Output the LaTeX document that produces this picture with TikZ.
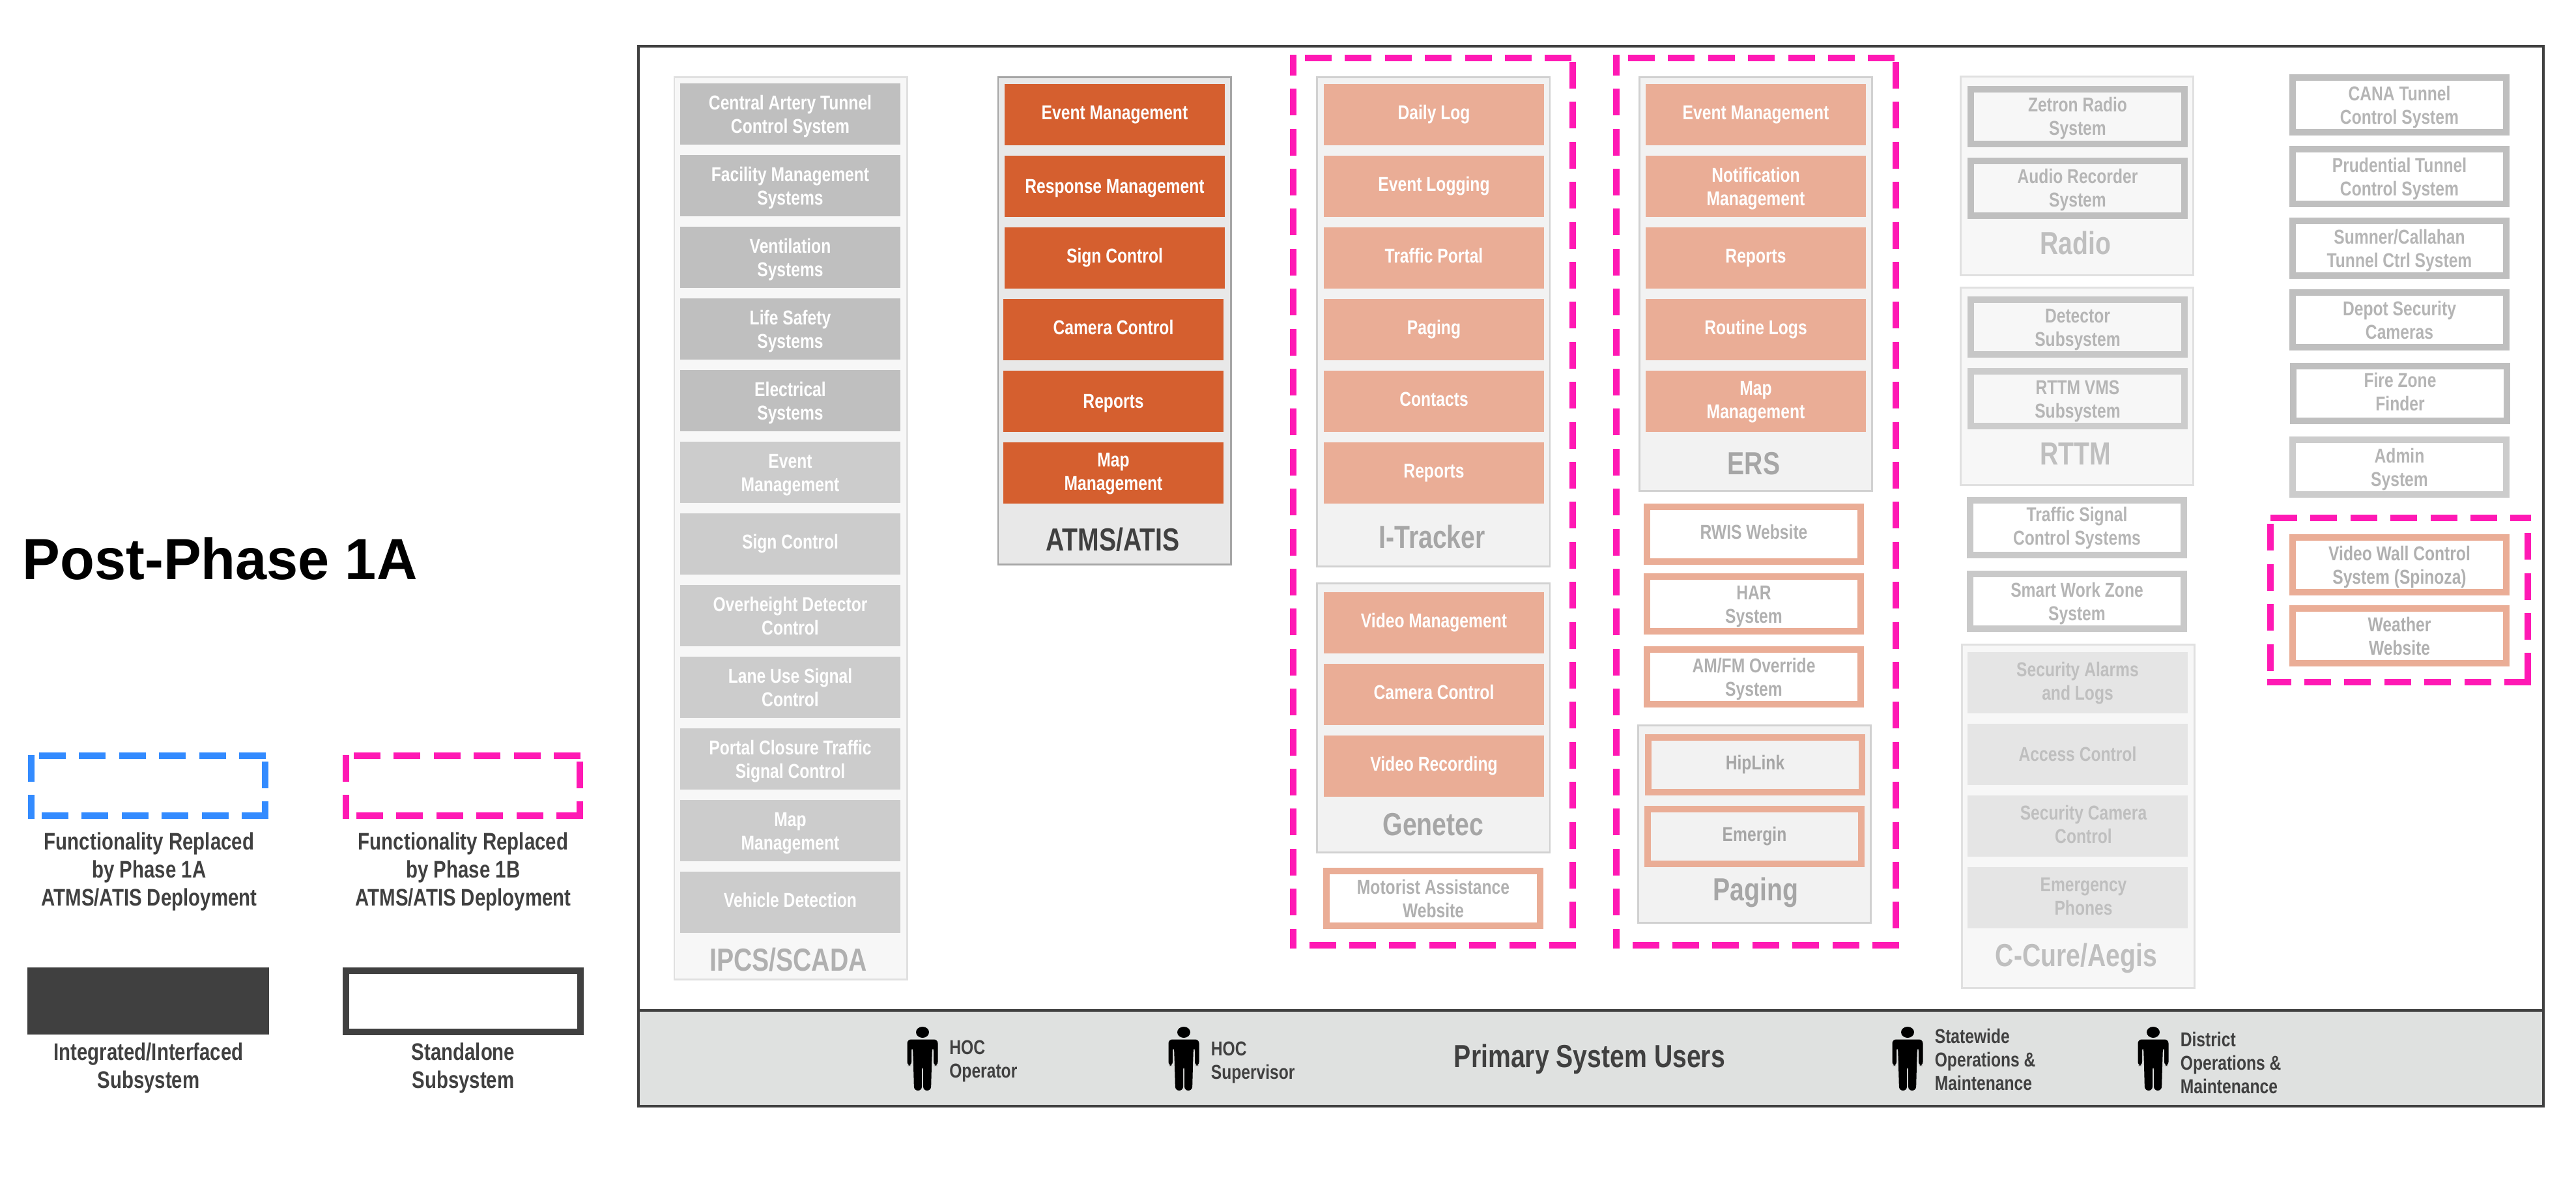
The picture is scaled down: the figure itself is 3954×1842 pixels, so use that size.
\documentclass[tikz,border=0pt]{standalone}
\usepackage{fontspec}
\setmainfont{Liberation Sans}[FakeStretch=0.80]
\newfontfamily\titlefont{Liberation Sans}[FakeStretch=0.97]
\definecolor{darkline}{HTML}{404040}
\definecolor{barfill}{HTML}{DFE1E0}
\definecolor{orangefill}{HTML}{D55F2F}
\definecolor{peach}{HTML}{EAAD96}
\definecolor{pinkdash}{HTML}{FF19B4}
\definecolor{bluedash}{HTML}{338BFF}
\newcommand{\nudge}{\hspace*{4.5pt}}
% one side at a time, the dashes of the reference do not run round the corners
\newcommand{\replacedbox}[8]{%
	\draw[dashline,#1,dash phase=#6] (#2,#5+5) -- (#2,#3-5);
	\draw[dashline,#1,dash phase=#7] (#2,#3) -- (#4+5,#3);
	\draw[dashline,#1,dash phase=#8] (#4,#3) -- (#4,#5+5);
	\draw[dashline,#1] (#4+5,#5) -- (#2-5,#5);
}
\tikzset{person/.pic={
	\fill[black] (0,8.5) ellipse [x radius=10, y radius=8.5];
	\fill[black,rounded corners=1.5pt] (-23.5,60) -- (-23.5,19.5) -- (23.5,19.5) -- (23.5,60) -- (17,60) -- (17,31) -- (15,31)
		-- (14,60) -- (13,98) -- (1,98) -- (1,60) -- (-1,60) -- (-1,98) -- (-13,98) -- (-14,60) -- (-15,31) -- (-17,31) -- (-17,60) -- cycle;
}}

\begin{document}
\begin{tikzpicture}[x=0.25pt,y=-0.25pt,node distance=27.5pt,font=\bfseries]
	\tikzstyle{dashline}=[line width=2.5pt,dash pattern=on 10.25pt off 5.1pt]
	% fixed top and bottom, so that descenders do not move the lines
	\tikzstyle{smalllines}=[execute at begin node={\rule{0pt}{16.2pt}},execute at end node={\rule[-1.5pt]{0pt}{0pt}}]
	\tikzstyle{lifted}=[execute at end node={\rule[-3pt]{0pt}{0pt}}]
	\tikzstyle{midline}=[text height=7.7pt,text depth=2.7pt]
	\tikzstyle{oneline}=[text height=7.7pt,text depth=3.9pt]
	\tikzstyle{largelines}=[execute at begin node={\rule{0pt}{9.5pt}},execute at end node={\rule[-.6pt]{0pt}{0pt}}]
	\tikzstyle{textfont}=[smalllines,align=center,inner sep=0pt,font=\fontsize{7.7}{9}\selectfont\bfseries]
	\tikzstyle{plainbox}=[textfont,minimum width=84.5pt,minimum height=23.5pt,text=white]
	\tikzstyle{ringbox}=[textfont,minimum width=82pt,minimum height=21pt,line width=2.5pt,draw]
	\tikzstyle{panel}=[minimum width=89.3pt,inner sep=0pt,line width=.7pt,draw=black!13,fill=black!3]
	\tikzstyle{paneltext}=[largelines,inner sep=0pt,font=\fontsize{12.25}{14}\selectfont\bfseries]
	\tikzstyle{legendtext}=[execute at end node={\rule[-.6pt]{0pt}{0pt}},align=center,inner sep=0pt,text=darkline,font=\fontsize{9.2}{10.75}\selectfont\bfseries]
	\tikzstyle{usertext}=[smalllines,align=left,anchor=west,inner sep=0pt,text=darkline,font=\fontsize{7.7}{9}\selectfont\bfseries]
	\tikzstyle{grey}=[plainbox,fill=black!25]
	\tikzstyle{lightgrey}=[plainbox,fill=black!20]
	\tikzstyle{orange}=[plainbox,fill=orangefill]
	\tikzstyle{soft}=[plainbox,fill=peach]
	\tikzstyle{faint}=[plainbox,fill=black!10,text=black!25]
	\tikzstyle{peachring}=[ringbox,draw=peach,fill=white,text=black!31]
	\tikzstyle{greyring}=[ringbox,draw=black!25,fill=white,text=black!29]

	\useasboundingbox (0,0) rectangle (3954,1842);

	% outer frame and users bar
	\node[draw=darkline,line width=.9pt,minimum width=731pt,minimum height=406.75pt,inner sep=0pt] (frame) at (2442,884.5) {};
	\node[draw=darkline,fill=barfill,line width=.9pt,minimum width=731pt,minimum height=36.75pt,inner sep=0pt] (bar) at (2442,1624.5) {};

	% legend
	\node[anchor=west,inner sep=0pt,text=black,font=\fontsize{22.3}{26}\selectfont\titlefont\bfseries] (title) at (34,857.5) {Post-Phase 1A};
	\replacedbox{bluedash}{48}{1160}{407}{1252}{1pt}{12.35pt}{13.1pt}
	\replacedbox{pinkdash}{531}{1160}{890}{1252}{1pt}{12.35pt}{13.1pt}
	\node[legendtext] (blue_text) at (229,1337.5) {Functionality Replaced\\by Phase 1A\\ATMS/ATIS Deployment};
	\node[legendtext] (pink_text) at (711,1337.5) {Functionality Replaced\\by Phase 1B\\ATMS/ATIS Deployment};
	\node[fill=darkline,minimum width=92.75pt,minimum height=25.75pt,inner sep=0pt] (dark_key) at (227.5,1536.5) {};
	\node[draw=darkline,line width=2.6pt,minimum width=90pt,minimum height=23.4pt,inner sep=0pt] (white_key) at (711,1537) {};
	\node[legendtext] (dark_text) at (228,1639) {Integrated/Interfaced\\Subsystem};
	\node[legendtext] (white_text) at (711,1639) {Standalone\\Subsystem};

	% IPCS/SCADA
	\node[panel,draw=black!12,fill=black!3,minimum height=346.3pt] (ipcs) at (1213.5,811) {};
	\node[grey] (ipcs_1) at (1213,175) {Central Artery Tunnel\\Control System};
	\node[grey] (ipcs_2) [below of=ipcs_1] {Facility Management\\Systems};
	\node[grey] (ipcs_3) [below of=ipcs_2] {Ventilation\\Systems};
	\node[grey] (ipcs_4) [below of=ipcs_3] {Life Safety\\Systems};
	\node[grey] (ipcs_5) [below of=ipcs_4] {Electrical\\Systems};
	\node[lightgrey] (ipcs_6) [below of=ipcs_5] {Event\\Management};
	\node[lightgrey,oneline] (ipcs_7) [below of=ipcs_6] {Sign Control};
	\node[lightgrey] (ipcs_8) [below of=ipcs_7] {Overheight Detector\\Control};
	\node[lightgrey] (ipcs_9) [below of=ipcs_8] {Lane Use Signal\\Control};
	\node[lightgrey] (ipcs_10) [below of=ipcs_9] {Portal Closure Traffic\\Signal Control};
	\node[lightgrey] (ipcs_11) [below of=ipcs_10] {Map\\Management};
	\node[lightgrey,oneline] (ipcs_12) [below of=ipcs_11] {Vehicle Detection};
	\node[paneltext,text=black!31] (ipcs_name) at (1210,1473) {IPCS/SCADA};

	% ATMS/ATIS
	\node[panel,draw=black!35,fill=black!9,minimum height=187pt] (atms) at (1710.5,492.5) {};
	\node[orange,oneline] (atms_1) at (1711,176) {Event Management};
	\node[orange,midline] (atms_2) [below of=atms_1] {Response Management};
	\node[orange,oneline] (atms_3) [below of=atms_2] {Sign Control};
	\node[orange,oneline] (atms_4) at (1709,506) {Camera Control};
	\node[orange,midline] (atms_5) [below of=atms_4] {Reports};
	\node[orange,lifted] (atms_6) [below of=atms_5] {Map\\Management};
	\node[paneltext,text=darkline] (atms_name) at (1708,828) {ATMS/ATIS};

	% I-Tracker and Genetec
	\node[panel,fill=black!5,draw=black!18,minimum height=187.8pt] (itracker) at (2200.3,494) {};
	\node[soft,oneline] (itracker_1) at (2201,176) {Daily Log};
	\node[soft,oneline] (itracker_2) [below of=itracker_1] {Event Logging};
	\node[soft,oneline] (itracker_3) [below of=itracker_2] {Traffic Portal};
	\node[soft,oneline] (itracker_4) [below of=itracker_3] {Paging};
	\node[soft,oneline] (itracker_5) [below of=itracker_4] {Contacts};
	\node[soft,oneline] (itracker_6) [below of=itracker_5] {Reports};
	\node[paneltext,text=black!35] (itracker_name) at (2198,824) {I-Tracker};

	\node[panel,fill=black!5,draw=black!18,minimum height=103.3pt] (genetec) at (2200.3,1102) {};
	\node[soft,oneline] (genetec_1) at (2201,956) {Video Management};
	\node[soft,oneline] (genetec_2) [below of=genetec_1] {Camera Control};
	\node[soft,oneline] (genetec_3) [below of=genetec_2] {Video Recording};
	\node[paneltext,text=black!35] (genetec_name) at (2200,1265) {Genetec};
	\node[peachring] (motorist) at (2200,1379) {Motorist Assistance\\Website};

	% ERS, websites and Paging
	\node[panel,fill=black!5,draw=black!18,minimum height=158.8pt] (ers) at (2695,436) {};
	\node[soft,oneline] (ers_1) at (2695,176) {Event Management};
	\node[soft] (ers_2) [below of=ers_1] {Notification\\Management};
	\node[soft,oneline] (ers_3) [below of=ers_2] {Reports};
	\node[soft,oneline] (ers_4) [below of=ers_3] {Routine Logs};
	\node[soft,lifted] (ers_5) [below of=ers_4] {Map\\Management};
	\node[paneltext,text=black!35] (ers_name) at (2692,711) {ERS};
	\node[peachring,oneline] (rwis) at (2692,820) {RWIS Website};
	\node[peachring] (har) at (2692,927) {HAR\\System};
	\node[peachring] (amfm) at (2692,1039) {AM/FM Override\\System};

	\node[panel,fill=black!5,draw=black!18,minimum height=75.8pt] (paging) at (2693,1265) {};
	\node[peachring,oneline,fill=black!5,text=black!35] (hiplink) at (2694,1174) {HipLink};
	\node[peachring,oneline,fill=black!5,text=black!35] (emergin) at (2693,1284) {Emergin};
	\node[paneltext,text=black!35] (paging_name) at (2695,1369) {Paging};

	% Radio, RTTM and C-Cure/Aegis
	\node[panel,draw=black!12,minimum height=76.3pt] (radio) at (3188,270) {};
	\node[greyring,fill=black!3] (zetron) at (3189,178.5) {Zetron Radio\\System};
	\node[greyring,fill=black!3] (audio) at (3189,288.7) {Audio Recorder\\System};
	\node[paneltext,text=black!25] (radio_name) at (3186,373) {Radio};

	\node[panel,draw=black!12,minimum height=75.9pt] (rttm) at (3188,593) {};
	\node[greyring,fill=black!3,draw=black!22] (detector) at (3189,502) {Detector\\Subsystem};
	\node[greyring,fill=black!3,draw=black!20] (vms) at (3189,612) {RTTM VMS\\Subsystem};
	\node[paneltext,text=black!25] (rttm_name) at (3186,696) {RTTM};

	\node[greyring,lifted,draw=black!21] (traffic) at (3188,810) {Traffic Signal\\Control Systems};
	\node[greyring,draw=black!21] (smart) at (3188,923) {Smart Work Zone\\System};

	\node[panel,draw=black!12,minimum height=131.8pt] (ccure) at (3190,1253) {};
	\node[faint,lifted] (ccure_1) at (3189,1048) {Security Alarms\\and Logs};
	\node[faint,midline] (ccure_2) [below of=ccure_1] {Access Control};
	\node[faint,lifted] (ccure_3) [below of=ccure_2] {\nudge Security Camera\\\nudge Control};
	\node[faint,lifted] (ccure_4) [below of=ccure_3] {\nudge Emergency\\\nudge Phones};
	\node[paneltext,text=black!25] (ccure_name) at (3187,1470) {C-Cure/Aegis};

	% standalone column
	\node[greyring] (cana) at (3683,161) {CANA Tunnel\\Control System};
	\node[greyring] (prudential) [below of=cana] {Prudential Tunnel\\Control System};
	\node[greyring] (sumner) [below of=prudential] {Sumner/Callahan\\Tunnel Ctrl System};
	\node[greyring] (depot) [below of=sumner] {Depot Security\\Cameras};
	\node[greyring,lifted] (firezone) at (3684,604) {Fire Zone\\Finder};
	\node[greyring,draw=black!20] (admin) at (3683,717) {Admin\\System};
	\node[peachring] (videowall) at (3683,867) {Video Wall Control\\System (Spinoza)};
	\node[peachring] (weather) at (3683,976) {Weather\\Website};

	% replaced by phase 1B
	\replacedbox{pinkdash}{1985}{89}{2414}{1450.5}{2.75pt}{10.85pt}{13.85pt}
	\replacedbox{pinkdash}{2481}{89}{2910}{1450.5}{2.75pt}{10.85pt}{13.85pt}
	\replacedbox{pinkdash}{3485}{795}{3880}{1047}{9.75pt}{0pt}{9.55pt}

	% users
	\pic at (1416,1576) {person};
	\node[usertext] (hoc_operator) at (1456.5,1625.5) {HOC\\Operator};
	\pic at (1817,1576) {person};
	\node[usertext] (hoc_supervisor) at (1858,1627) {HOC\\Supervisor};
	\node[largelines,inner sep=0pt,text=darkline,font=\fontsize{12.25}{14}\selectfont\bfseries] (users) at (2440,1625) {Primary System Users};
	\pic at (2928,1576) {person};
	\node[usertext] (statewide) at (2969,1629) {Statewide\\Operations \&\\Maintenance};
	\pic at (3305,1576) {person};
	\node[usertext] (district) at (3346,1634.5) {District\\Operations \&\\Maintenance};
\end{tikzpicture}
\end{document}
